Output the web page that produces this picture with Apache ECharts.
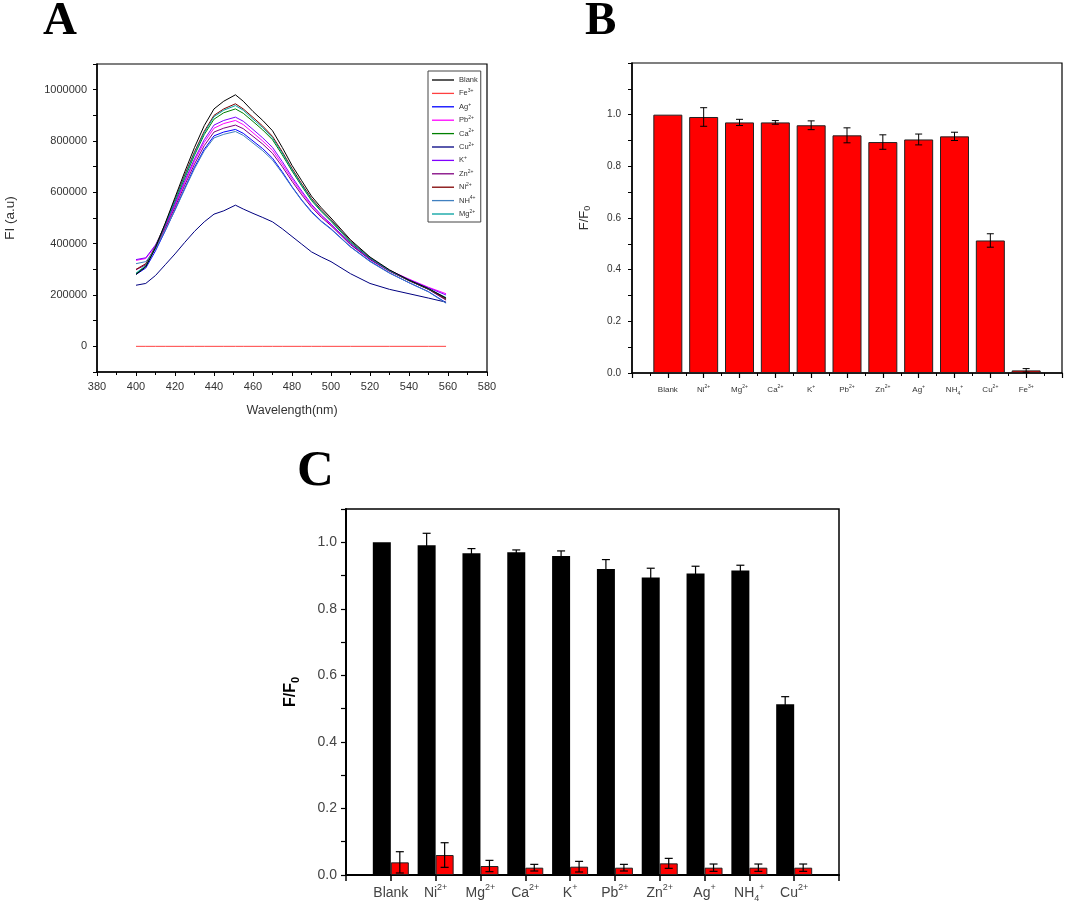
<!DOCTYPE html>
<html><head><meta charset="utf-8">
<script src="https://cdn.jsdelivr.net/npm/echarts@6/dist/echarts.min.js"></script>
<style>html,body{margin:0;padding:0;background:#fff}#c{width:1065px;height:906px}</style>
</head><body><div id="c"></div>
<script>
// ---------- Panel A: fluorescence spectra ----------
const wavelengths = [400,405,410,415,420,425,430,435,440,445,451,455,460,465,470,475,480,485,490,495,500,510,520,530,540,550,559];
const spectraNames = ['Blank','Fe^3+','Ag^+','Pb^2+','Ca^2+','Cu^2+','K^+','Zn^2+','Ni^2+','NH^4+','Mg^2+'];
const spectraColors = ['#000000','#ff4040','#0000ff','#ff00ff','#008000','#000080','#8000ff','#800080','#800000','#4080c0','#00a0a0'];
const specBlank = [280000,310000,385000,480000,580000,680000,775000,860000,925000,955000,980000,955000,915000,880000,840000,775000,705000,645000,585000,540000,500000,415000,348000,298000,258000,225000,188000];
const specFe    = [0,0,0,0,0,0,0,0,0,0,0,0,0,0,0,0,0,0,0,0,0,0,0,0,0,0,0];
const specAg    = [280000,305000,372000,450000,532000,616000,698000,768000,820000,835000,845000,830000,800000,770000,733000,680000,622000,570000,525000,488000,458000,388000,332000,286000,248000,213000,170000];
const specPb    = [335000,342000,392000,466000,550000,638000,722000,795000,850000,868000,880000,864000,832000,800000,764000,710000,652000,598000,548000,508000,474000,398000,340000,296000,262000,230000,205000];
const specCa    = [283000,312000,385000,472000,562000,655000,745000,825000,885000,910000,925000,908000,876000,843000,805000,746000,683000,624000,568000,525000,487000,405000,342000,294000,256000,222000,182000];
const specCu    = [238000,245000,276000,318000,360000,405000,448000,485000,515000,528000,550000,535000,518000,502000,485000,458000,428000,398000,368000,348000,330000,283000,245000,222000,205000,188000,172000];
const specK     = [338000,345000,395000,470000,555000,645000,730000,805000,862000,880000,893000,877000,845000,812000,775000,720000,660000,605000,553000,512000,477000,400000,340000,295000,260000,228000,200000];
const specZn    = [298000,318000,382000,460000,542000,628000,710000,782000,835000,850000,862000,848000,818000,788000,752000,700000,643000,590000,542000,503000,470000,396000,338000,292000,256000,222000,180000];
const specNi    = [300000,322000,390000,478000,572000,668000,758000,838000,900000,925000,945000,925000,892000,858000,818000,758000,693000,633000,576000,532000,493000,410000,345000,296000,257000,223000,186000];
const specNH4   = [322000,330000,378000,452000,530000,612000,692000,762000,812000,826000,837000,822000,792000,762000,726000,675000,620000,568000,522000,486000,456000,387000,330000,285000,248000,212000,168000];
const specMg    = [285000,315000,388000,476000,568000,662000,752000,832000,895000,920000,938000,920000,885000,852000,812000,753000,688000,628000,572000,528000,490000,408000,344000,295000,258000,224000,190000];
const spectra = [specBlank,specFe,specAg,specPb,specCa,specCu,specK,specZn,specNi,specNH4,specMg];

// ---------- Panel B: F/F0 for each ion ----------
const ionsB  = ['Blank','Ni^2+','Mg^2+','Ca^2+','K^+','Pb^2+','Zn^2+','Ag^+','NH_4^+','Cu^2+','Fe^3+'];
const ratioB = [1.000,0.991,0.970,0.970,0.959,0.920,0.894,0.904,0.916,0.513,0.010];
const errB   = [0,0.036,0.012,0.007,0.017,0.029,0.028,0.021,0.016,0.026,0.007];

// ---------- Panel C: F/F0 without / with Fe3+ ----------
const ionsC     = ['Blank','Ni^2+','Mg^2+','Ca^2+','K^+','Pb^2+','Zn^2+','Ag^+','NH_4^+','Cu^2+'];
const ratioCBlack = [1.000,0.991,0.967,0.970,0.959,0.920,0.894,0.906,0.915,0.513];
const errCBlack   = [0,0.036,0.014,0.007,0.015,0.028,0.028,0.022,0.016,0.023];
const ratioCRed   = [0.038,0.060,0.027,0.022,0.025,0.022,0.035,0.022,0.022,0.022];
const errCRed     = [0.032,0.037,0.017,0.010,0.016,0.010,0.015,0.011,0.011,0.011];

function richName(s, p) {
  const m = s.match(/^([^_^]+)(?:_([^\^]+))?(?:\^(.+))?$/);
  let out = '{' + p + 'b|' + m[1] + '}';
  if (m[2]) out += '{' + p + 'sub|' + m[2] + '}';
  if (m[3]) out += '{' + p + 'sup|' + m[3] + '}';
  return out;
}
function richSet(p, size, color, lh) {
  const o = {};
  o[p + 'b'] = {fontSize: size, color: color, lineHeight: lh, fontFamily: 'Liberation Sans, Arial'};
  o[p + 'sub'] = {fontSize: Math.round(size * 0.65), color: color, lineHeight: Math.round(size * 0.6), verticalAlign: 'bottom', fontFamily: 'Liberation Sans, Arial'};
  o[p + 'sup'] = {fontSize: Math.round(size * 0.65), color: color, lineHeight: Math.round(size * 0.6), verticalAlign: 'top', fontFamily: 'Liberation Sans, Arial'};
  return o;
}

function errRender(offsetPx, capPx, color, width) {
  return function (params, api) {
    const x = api.value(0), lo = api.value(1), hi = api.value(2);
    const a = api.coord([x, lo]), b = api.coord([x, hi]);
    const cx = a[0] + offsetPx;
    const st = {stroke: color, lineWidth: width};
    return {type: 'group', children: [
      {type: 'line', shape: {x1: cx, y1: a[1], x2: cx, y2: b[1]}, style: st},
      {type: 'line', shape: {x1: cx - capPx, y1: a[1], x2: cx + capPx, y2: a[1]}, style: st},
      {type: 'line', shape: {x1: cx - capPx, y1: b[1], x2: cx + capPx, y2: b[1]}, style: st}
    ]};
  };
}

const axisLineK = {show: true, onZero: false, lineStyle: {color: '#000', width: 1.5}};
const tickK = {show: true, length: 4, lineStyle: {color: '#000', width: 1}};

const series = [];
spectra.forEach((arr, i) => {
  series.push({
    name: spectraNames[i], type: 'line', xAxisIndex: 0, yAxisIndex: 0,
    symbol: 'none', smooth: false,
    lineStyle: {width: 1, color: spectraColors[i]}, itemStyle: {color: spectraColors[i]},
    data: wavelengths.map((w, j) => [w, arr[j]]), z: i === 0 ? 3 : 2
  });
});
series.push({
  type: 'bar', xAxisIndex: 1, yAxisIndex: 1, barWidth: 29,
  itemStyle: {color: '#ff0000', borderColor: '#222', borderWidth: 1},
  data: ratioB.map((v, i) => [i + 1, v])
});
series.push({
  type: 'custom', xAxisIndex: 1, yAxisIndex: 1, z: 5,
  renderItem: errRender(0, 3.5, '#000', 1),
  encode: {x: 0, y: [1, 2]},
  data: ratioB.map((v, i) => [i + 1, v - errB[i], v + errB[i]]).filter((d, i) => errB[i] > 0)
});
series.push({
  type: 'bar', xAxisIndex: 2, yAxisIndex: 2, barWidth: 18, barGap: '0%',
  itemStyle: {color: '#000'},
  data: ratioCBlack.map((v, i) => [i + 1, v])
});
series.push({
  type: 'bar', xAxisIndex: 2, yAxisIndex: 2, barWidth: 18, barGap: '0%',
  itemStyle: {color: '#ff0000', borderColor: '#222', borderWidth: 1},
  data: ratioCRed.map((v, i) => [i + 1, v])
});
series.push({
  type: 'custom', xAxisIndex: 2, yAxisIndex: 2, z: 5,
  renderItem: errRender(-9, 4, '#000', 1.2),
  encode: {x: 0, y: [1, 2]},
  data: ratioCBlack.map((v, i) => [i + 1, v - errCBlack[i], v + errCBlack[i]]).filter((d, i) => errCBlack[i] > 0)
});
series.push({
  type: 'custom', xAxisIndex: 2, yAxisIndex: 2, z: 5,
  renderItem: errRender(9, 4, '#000', 1.2),
  encode: {x: 0, y: [1, 2]},
  data: ratioCRed.map((v, i) => [i + 1, v - errCRed[i], v + errCRed[i]])
});

const option = {
  animation: false,
  backgroundColor: '#fff',
  textStyle: {fontFamily: 'Liberation Sans, Arial'},
  title: [
    {text: 'A', left: 38, top: -7, textStyle: {fontFamily: 'Liberation Serif', fontWeight: 'bold', fontSize: 47, color: '#000'}},
    {text: 'B', left: 580, top: -7, textStyle: {fontFamily: 'Liberation Serif', fontWeight: 'bold', fontSize: 47, color: '#000'}},
    {text: 'C', left: 292, top: 441, textStyle: {fontFamily: 'Liberation Serif', fontWeight: 'bold', fontSize: 51, color: '#000'}}
  ],
  legend: {
    data: spectraNames, orient: 'vertical', left: 428, top: 71,
    icon: 'rect', itemWidth: 22, itemHeight: 1.3, itemGap: 3.4, padding: [4, 3, 3, 4],
    borderColor: '#444', borderWidth: 1,
    formatter: n => richName(n, 'l'),
    textStyle: {fontSize: 7, color: '#333', lineHeight: 10, rich: richSet('l', 7.5, '#333', 10)}
  },
  grid: [
    {left: 97, top: 64, width: 390, height: 308, show: true, borderColor: '#000', borderWidth: 1.2},
    {left: 632, top: 63, width: 430, height: 310, show: true, borderColor: '#000', borderWidth: 1.2},
    {left: 346, top: 509, width: 493, height: 366, show: true, borderColor: '#000', borderWidth: 1.5}
  ],
  xAxis: [
    {type: 'value', gridIndex: 0, min: 380, max: 580, interval: 20,
     axisLine: axisLineK, axisTick: tickK, minorTick: {show: true, splitNumber: 2, length: 3, lineStyle: {color: '#000'}},
     splitLine: {show: false},
     axisLabel: {fontSize: 11, color: '#333', margin: 9},
     name: 'Wavelength(nm)', nameLocation: 'middle', nameGap: 32,
     nameTextStyle: {fontSize: 12.5, color: '#333'}},
    {type: 'value', gridIndex: 1, min: 0, max: 12, interval: 1,
     axisLine: axisLineK, axisTick: {show: true, length: 5, lineStyle: {color: '#000', width: 1.2}},
     minorTick: {show: true, splitNumber: 2, length: 3, lineStyle: {color: '#000'}},
     splitLine: {show: false},
     axisLabel: {margin: 11, formatter: v => (v >= 1 && v <= ionsB.length) ? richName(ionsB[v - 1], 'b') : '',
       rich: richSet('b', 8, '#333', 12)}},
    {type: 'value', gridIndex: 2, min: 0, max: 11, interval: 1,
     axisLine: {show: true, onZero: false, lineStyle: {color: '#000', width: 2}},
     axisTick: {show: true, length: 6, lineStyle: {color: '#000', width: 1.5}},
     splitLine: {show: false},
     axisLabel: {margin: 8, formatter: v => (v >= 1 && v <= ionsC.length) ? richName(ionsC[v - 1], 'c') : '',
       rich: richSet('c', 14, '#444', 20)}}
  ],
  yAxis: [
    {type: 'value', gridIndex: 0, min: -100000, max: 1100000, interval: 100000,
     axisLine: axisLineK, axisTick: tickK, splitLine: {show: false},
     axisLabel: {fontSize: 11, color: '#333', margin: 10,
       formatter: v => (v >= 0 && v <= 1000000 && v % 200000 === 0) ? String(v) : ''},
     name: 'FI (a.u)', nameLocation: 'middle', nameGap: 80, nameRotate: 90,
     nameTextStyle: {fontSize: 13.5, color: '#333'}},
    {type: 'value', gridIndex: 1, min: 0, max: 1.2, interval: 0.1,
     axisLine: axisLineK, axisTick: tickK, splitLine: {show: false},
     axisLabel: {fontSize: 10, color: '#333', margin: 11,
       formatter: v => (Math.round(v * 10) % 2 === 0 && v <= 1.0001) ? v.toFixed(1) : ''},
     name: '{m|F/F}{s|0}', nameLocation: 'middle', nameGap: 40, nameRotate: 90,
     nameTextStyle: {rich: {m: {fontSize: 13, color: '#333', lineHeight: 16}, s: {fontSize: 9, color: '#333', lineHeight: 8, verticalAlign: 'bottom'}}}},
    {type: 'value', gridIndex: 2, min: 0, max: 1.1, interval: 0.1,
     axisLine: {show: true, onZero: false, lineStyle: {color: '#000', width: 2}},
     axisTick: {show: true, length: 5, lineStyle: {color: '#000', width: 1.2}},
     splitLine: {show: false},
     axisLabel: {fontSize: 14, color: '#444', margin: 9,
       formatter: v => (Math.round(v * 10) % 2 === 0 && v <= 1.0001) ? v.toFixed(1) : ''},
     name: '{m|F/F}{s|0}', nameLocation: 'middle', nameGap: 45, nameRotate: 90,
     nameTextStyle: {rich: {m: {fontSize: 16, fontWeight: 'bold', color: '#000', lineHeight: 20}, s: {fontSize: 11, fontWeight: 'bold', color: '#000', lineHeight: 10, verticalAlign: 'bottom'}}}}
  ],
  series: series
};
const chart = echarts.init(document.getElementById('c'), null, {renderer: 'canvas'});
chart.setOption(option);
</script></body></html>
